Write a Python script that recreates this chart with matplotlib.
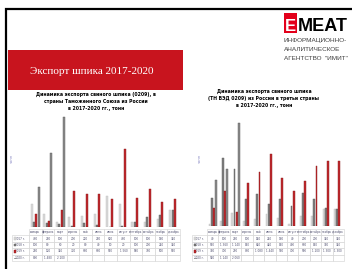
import matplotlib
matplotlib.use("Agg")
import matplotlib.pyplot as plt
from matplotlib.patches import Rectangle
import numpy as np

# months (table header)
months = ["январь", "февраль", "март", "апрель", "май", "июнь",
          "июль", "август", "сентябрь", "октябрь", "ноябрь", "декабрь"]
years = ["2017 г.", "2018 г.", "2019 г.", "2020 г."]

# export to Customs Union countries, tonnes
cu_2017 = [460, 260, 100, 200, 220, 260, 620, 460, 100, 100, 160, 340]
cu_2018 = [100, 80, 60, 20, 80, 40, 10, 20, 100, 200, 240, 340]
cu_2019 = [260, 120, 340, 720, 660, 660, 560, 1560, 580, 760, 500, 560]
cu_2020 = [800, 1480, 2200]

# export to third countries, tonnes
tc_2017 = [40, 100, 260, 100, 140, 240, 160, 40, 200, 200, 340, 340]
tc_2018 = [560, 1360, 1140, 540, 640, 440, 540, 400, 660, 540, 360, 340]
tc_2019 = [360, 700, 280, 860, 1080, 1440, 960, 700, 900, 1200, 1300, 1300]
tc_2020 = [920, 1140, 2060]

colors = ["#d9d9d9", "#7f7f7f", "#c0282d", "#8c8c8c"]
edges = ["#bfbfbf", "#595959", "#8b1a1a", "#595959"]

W, H = 352, 269
fig = plt.figure(figsize=(W / 100, H / 100), dpi=100)


def fx(px):
    return px / W


def fy(py):
    return 1 - py / H


# slide frame
fig.add_artist(Rectangle((fx(6), fy(280)), 1.1, (280 - 9) / H, fill=False,
                         edgecolor="black", linewidth=1.6, transform=fig.transFigure))

# red banner
fig.add_artist(Rectangle((fx(8), fy(90)), fx(175), 40 / H, facecolor="#c8141e",
                         edgecolor="none", transform=fig.transFigure))
fig.text(fx(92), fy(72), "Экспорт шпика 2017-2020", color="white",
         family="Liberation Serif", fontsize=8, ha="center", va="center")

# logo
fig.add_artist(Rectangle((fx(284), fy(33)), fx(13), 20 / H, facecolor="#e3001b",
                         edgecolor="none", transform=fig.transFigure))
fig.text(fx(290.5), fy(31), "E", color="white", family="Liberation Sans",
         weight="bold", fontsize=12, ha="center", va="baseline")
fig.text(fx(298), fy(31), "MEAT", color="black", family="Liberation Sans",
         weight="bold", fontsize=13, ha="left", va="baseline")
for i, line in enumerate(["ИНФОРМАЦИОННО-", "АНАЛИТИЧЕСКОЕ", "АГЕНТСТВО  \"ИМИТ\""]):
    fig.text(fx(284), fy(41 + i * 8.5), line, color="#404040",
             family="Liberation Sans", fontsize=4.6, ha="left", va="center")


def draw_chart(rect, series, ymax, title, title_x, title_y, ylab_x, label_w):
    ax = fig.add_axes(rect)
    x = np.arange(len(months))
    for i, vals in enumerate(series):
        xs = x[:len(vals)] + (i - 1.5) * 0.19
        ax.bar(xs, vals, width=0.16, color=colors[i], edgecolor=edges[i], linewidth=0.3)
    ax.set_xlim(-0.5, 11.5)
    ax.set_ylim(0, ymax)
    for s in ax.spines.values():
        s.set_visible(False)
    ax.set_xticks([])
    ax.set_yticks([])

    # data table under the bars
    rows = [[""] + months]
    for lab, vals in zip(years, series):
        rows.append([lab] + [f"{v:,}".replace(",", " ") for v in vals] + [""] * (12 - len(vals)))
    pos = ax.get_position()
    wpx = pos.width * W
    hpx = pos.height * H
    bottom_px = (1 - pos.y0) * H
    tb = ax.table(cellText=rows, colWidths=[label_w] + [wpx / 12] * 12, cellLoc="center",
                  bbox=[-label_w / wpx, -(261 - bottom_px) / hpx, (label_w + wpx) / wpx,
                        32 / hpx])
    tb.auto_set_font_size(False)
    tb.set_fontsize(2)
    for (r, c), cell in tb.get_celld().items():
        cell.set_edgecolor("#d0d0d0")
        cell.set_linewidth(0.4)
        cell.get_text().set_color("#505070")
        if r == 0 and c == 0:
            cell.set_edgecolor("white")
    # legend keys in the first column
    row_h = 32 / 5
    for i in range(4):
        yc = 229 + row_h * (i + 1.5)
        ky = -(yc - bottom_px) / hpx
        kx = (-label_w + 2) / wpx
        if i < 3:
            ax.add_patch(Rectangle((kx, ky - 1.2 / hpx), 2.4 / wpx, 2.4 / hpx,
                                   facecolor=colors[i], edgecolor=edges[i], linewidth=0.3,
                                   transform=ax.transAxes, clip_on=False))
        else:
            ax.plot([kx, kx + 2.4 / wpx], [ky, ky], color="#8c8c8c", lw=0.6,
                    transform=ax.transAxes, clip_on=False)

    fig.text(fx(title_x), fy(title_y), title, fontsize=3.3, weight="bold",
             ha="center", va="top", linespacing=1.5)
    fig.text(fx(ylab_x), fy(158), "тонн", fontsize=2.5, rotation=90,
             color="#8080c0", ha="center", va="center")
    return ax


left_title = ("Динамика экспорта свиного шпика (0209), в\n"
              "страны Таможенного Союза из России\n"
              "в 2017-2020 гг., тонн")
right_title = ("Динамика экспорта свиного шпика\n"
               "(ТН ВЭД 0209) из России в третьи страны\n"
               "в 2017-2020 гг., тонн")

draw_chart([fx(29), 1 - 227 / H, 151 / W, 115 / H],
           [cu_2017, cu_2018, cu_2019, cu_2020], 2300,
           left_title, 96, 92, 12, 17)
draw_chart([fx(207), 1 - 226 / H, 137 / W, 114 / H],
           [tc_2017, tc_2018, tc_2019, tc_2020], 2280,
           right_title, 264, 89, 200, 15)

fig.savefig("out.png", dpi=100)
